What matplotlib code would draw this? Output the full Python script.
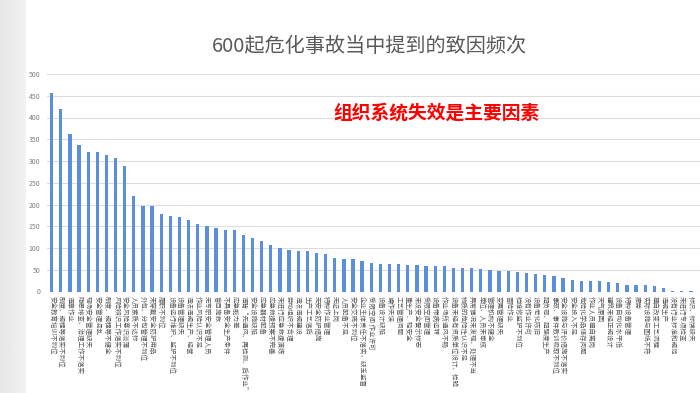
'''Bar chart of accident cause frequencies.'''

import numpy as np
import matplotlib.pyplot as plt

plt.rcParams['font.family'] = ['Noto Sans CJK SC', 'DejaVu Sans']

# Data
causes = [
    "安全教育培训不到位", "制度、规程等落实不到位", "违章作业", "隐患排查、治理工作不落实",
    "现场安全管理缺失", "安全管理混乱", "制度、规程等不健全", "风险辨识工作落实不到位",
    "安全风险意识淡薄", "人员素质不达标", "外包、分包管理不到位", "未穿戴安全防护用品",
    "履职不到位", "设备运行维护、监护不到位", "设备管理缺失", "违法违规生产、经营",
    "作业风险认识不足", "无专职安全管理人员", "盲目施救", "不具备安全生产条件",
    "应急能力差", "违背“先通风、再检测、后作业”", "安全设施缺陷", "应急器材配备",
    "应急救援预案不完善", "未进行应急救援演练", "劳动组织不合理", "违法违规建设",
    "生产工艺落后", "无安全防护措施", "特种作业管理", "无证上岗",
    "人员配备不足", "安全交底不到位", "企业主体责任不落实，缺乏监督", "受限空间 作业许可",
    "设备设计缺陷", "操作失误", "工艺管理问题", "重生产、轻安全",
    "未设安全警示标志", "受限空间管理", "设备带病运转", "作业场所通风不畅",
    "设备未经有资质单位设计、检验", "物质的危险性认识不足", "异常情况未发现、处理不当", "单位、人员未审核",
    "管理机构不健全", "变更管理缺失", "冒险作业", "检维修监护不到位",
    "没有作业许可", "设备老化陈旧", "超负荷、超强度生产", "事故、事件教训吸取不到位",
    "安全设施与评价措施不落实", "安全投入不足", "危险化学品储存问题", "作业人员擅自离岗",
    "天气原因", "建筑未经正规设计", "设备自动化水平低", "特种设备管理",
    "疲劳", "实际设施与图纸不符", "擅自改变工艺流程", "违规生产",
    "没有行业标准和规范", "未进行专项检查", "标识、标牌缺失",
]
counts = [
    456, 420, 363, 336, 321, 321, 314, 306, 288, 220, 197, 196,
    178, 174, 171, 164, 155, 151, 147, 142, 142, 131, 123, 115,
    107, 99, 95, 93, 93, 89, 87, 77, 75, 75, 70, 66,
    64, 63, 63, 62, 61, 59, 59, 58, 55, 54, 53, 52,
    50, 48, 47, 45, 43, 41, 39, 35, 30, 26, 24, 23,
    23, 22, 20, 16, 16, 14, 12, 7, 2, 1, 1,
]
y_ticks = [0, 50, 100, 150, 200, 250, 300, 350, 400, 450, 500]

W, H = 700, 393
fig = plt.figure(figsize=(W / 100, H / 100), dpi=100)
fig.patch.set_facecolor("white")

# light gray slide margin on the left
bg = fig.add_axes([0, 0, 26 / W, 1])
grad = np.linspace(0.90, 0.95, 50).reshape(1, -1)
bg.imshow(grad, aspect="auto", cmap="gray", vmin=0, vmax=1, extent=[0, 1, 0, 1])
bg.axis("off")

ax = fig.add_axes([47.1 / W, 1 - 291.5 / H, (W - 47.1) / W, (291.5 - 74) / H])
x = np.arange(len(counts))
ax.bar(x, counts, width=0.36, color="#5B8EDC", zorder=3)

ax.set_xlim(-0.5, 71.0)
ax.set_ylim(0, 500)
ax.set_yticks(y_ticks)
ax.set_yticklabels([str(v) for v in y_ticks], fontsize=5, color="#7f7f7f")
ax.set_xticks(x)
ax.set_xticklabels(causes, rotation=-90, fontsize=4.7, color="#595959",
                   ha="center", va="top")
ax.tick_params(axis="y", length=0, pad=5)
ax.tick_params(axis="x", length=0, pad=3)
for s in ax.spines.values():
    s.set_visible(False)
ax.grid(axis="y", color="#dcdcdc", linewidth=0.8, zorder=0)
ax.set_facecolor("none")

fig.text(369 / W, 1 - 47 / H, "600起危化事故当中提到的致因频次",
         ha="center", va="center", fontsize=14.5, color="#595959")
fig.text(437 / W, 1 - 113 / H, "组织系统失效是主要因素",
         ha="center", va="center", fontsize=13.5, color="#ff0000",
         fontweight="bold")

fig.savefig("out.png", dpi=100)
